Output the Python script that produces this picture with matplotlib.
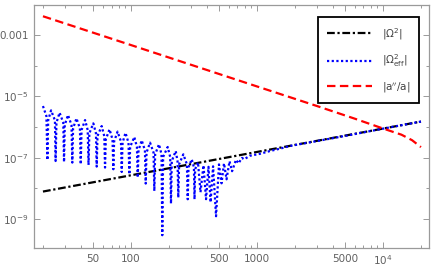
import matplotlib
matplotlib.use("Agg")
import matplotlib.pyplot as plt
from matplotlib.ticker import FixedLocator, FixedFormatter, NullFormatter

# |Omega^2| (power law, black dash-dot)
t_om = [20, 100, 1000, 10000, 20000]
om2 = [7.8e-9, 2.65e-8, 1.53e-7, 8.85e-7, 1.5e-6]

# |a''/a| (red dashed)
t_aa = [20, 100, 1000, 3000, 6000, 10000, 14000, 17000, 20000]
aa = [4.1e-3, 4.7e-4, 2.1e-5, 4.8e-6, 1.85e-6, 8.9e-7, 5.6e-7, 3.7e-7, 2.2e-7]

# |Omega^2_eff| (blue dotted), read along the oscillations
t_eff = [20.0, 21.3, 21.7, 22.0, 23.2, 24.9, 25.2, 25.6, 27.1, 29.0, 29.4, 29.8,
         31.6, 33.7, 34.2, 34.7, 36.9, 39.3, 39.9, 40.5, 43.2, 45.3, 46.0, 46.7,
         50.2, 52.7, 53.4, 54.2, 58.5, 61.3, 62.2, 63.1, 67.5, 71.3, 72.4, 73.4,
         78.2, 83.2, 84.4, 85.7, 90.4, 95.5, 97.0, 98.4, 106.2, 111.4, 113.0, 114.7,
         121.6, 128.9, 130.8, 132.8, 141.6, 150.9, 153.1, 155.4, 166.8, 174.6, 177.1, 179.8,
         195.4, 204.6, 207.6, 210.7, 226.4, 233.9, 237.3, 240.8, 260.2, 277.7, 281.8, 285.9,
         303.4, 315.6, 319.1, 322.8, 340, 356, 376, 394, 412, 428, 448, 473,
         499, 523, 547, 573, 605, 634, 681, 713, 760, 789, 880, 1056,
         1268, 1523, 1828, 2194, 2635, 5000, 10000, 20000]
om_eff = [4.81e-6, 2.27e-6, 8.35e-8, 1.64e-6, 3.48e-6, 1.64e-6, 7.74e-8, 1.38e-6, 2.93e-6, 1.38e-6, 7.19e-8, 1.16e-6,
          2.45e-6, 1.16e-6, 6.87e-8, 9.02e-7, 1.91e-6, 9.02e-7, 6.05e-8, 7.94e-7, 1.68e-6, 7.94e-7, 5.74e-8, 6.19e-7,
          1.31e-6, 6.19e-7, 5.09e-8, 5.06e-7, 1.07e-6, 5.06e-7, 4.72e-8, 3.95e-7, 8.37e-7, 3.95e-7, 4.16e-8, 3.33e-7,
          7.05e-7, 3.33e-7, 3.39e-8, 3.04e-7, 6.44e-7, 3.04e-7, 2.85e-8, 2.22e-7, 4.70e-7, 2.22e-7, 2.23e-8, 1.73e-7,
          3.66e-7, 1.73e-7, 1.42e-8, 1.46e-7, 3.08e-7, 1.46e-7, 8.15e-9, 1.28e-7, 2.72e-7, 1.28e-7, 2.93e-10, 1.05e-7,
          2.22e-7, 1.05e-7, 3.16e-9, 7.74e-8, 1.64e-7, 7.74e-8, 4.97e-9, 6.05e-8, 1.28e-7, 6.05e-8, 4.37e-9, 4.83e-8,
          8.81e-8, 4.83e-8, 4.37e-9, 4.16e-8, 7.03e-8, 7.4e-9, 5.6e-8, 4.4e-9, 5.0e-8, 3.5e-9, 5.2e-8, 1.22e-9,
          6.0e-8, 1.45e-8, 6.5e-8, 1.96e-8, 7.6e-8, 3.6e-8, 8.5e-8, 6.5e-8, 9.8e-8, 8.8e-8, 1.15e-7, 1.33e-7,
          1.64e-7, 1.96e-7, 2.4e-7, 2.75e-7, 3.15e-7, 5.1e-7, 8.8e-7, 1.5e-6]

x_major = [50, 100, 500, 1000, 5000, 10000]
x_major_labels = ['50', '100', '500', '1000', '5000', r'$10^4$']
x_minor = [20, 30, 40, 60, 70, 80, 90, 200, 300, 400, 600, 700, 800, 900,
           2000, 3000, 4000, 6000, 7000, 8000, 9000, 20000]
y_major = [1e-9, 1e-7, 1e-5, 1e-3]
y_major_labels = [r'$10^{-9}$', r'$10^{-7}$', r'$10^{-5}$', '0.001']
y_minor = [1e-8, 1e-6, 1e-4]

labels = [r'$|\Omega^2|$', r'$|\Omega^2_{\mathrm{eff}}|$',
          r'$|\mathrm{a}^{\prime\prime}/\mathrm{a}|$']

fig = plt.figure(figsize=(4.36, 2.71), dpi=100)
ax = fig.add_axes([34/436, 1 - 248/271, 395/436, 243/271])

ax.plot(t_om, om2, color='black', lw=1.6, linestyle=(0, (3.5, 1.2, 1, 1.2)), label=labels[0])
ax.plot(t_eff, om_eff, color='blue', lw=1.6, linestyle=(0, (1, 1.1)), label=labels[1])
ax.plot(t_aa, aa, color='red', lw=1.6, linestyle=(0, (3.8, 2)), label=labels[2])

ax.set_xscale('log')
ax.set_yscale('log')
ax.set_xlim(10**1.230, 10**4.365)
ax.set_ylim(10**-9.95, 10**-2.02)

ax.xaxis.set_major_locator(FixedLocator(x_major))
ax.xaxis.set_major_formatter(FixedFormatter(x_major_labels))
ax.xaxis.set_minor_locator(FixedLocator(x_minor))
ax.xaxis.set_minor_formatter(NullFormatter())
ax.yaxis.set_major_locator(FixedLocator(y_major))
ax.yaxis.set_major_formatter(FixedFormatter(y_major_labels))
ax.yaxis.set_minor_locator(FixedLocator(y_minor))
ax.yaxis.set_minor_formatter(NullFormatter())

grey = '#9a9a9a'
for s in ax.spines.values():
    s.set_color(grey)
    s.set_linewidth(0.9)
ax.tick_params(which='both', direction='in', top=True, right=True,
               color=grey, labelcolor='#606060', labelsize=7.5, width=0.7)
ax.tick_params(which='major', length=4, pad=4)
ax.tick_params(which='minor', length=2.5)

leg = ax.legend(loc='upper right', bbox_to_anchor=(0.975, 0.951), fancybox=False,
                edgecolor='black', framealpha=1, fontsize=7.5, handlelength=4.3,
                labelspacing=1.05, borderpad=0.85, handletextpad=0.95, borderaxespad=0)
leg.get_frame().set_linewidth(1.3)
for txt in leg.get_texts():
    txt.set_color('#404040')

fig.savefig('out.png', dpi=100)
